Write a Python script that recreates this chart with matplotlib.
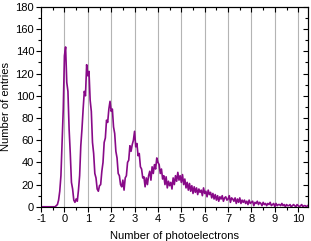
import numpy as np
import matplotlib.pyplot as plt
from matplotlib.ticker import MultipleLocator

# photoelectron spectrum, bins of 0.05 starting at -1
x_start = -1.0
bin_w = 0.05
counts_flat = [0] * 13  # -1.00 .. -0.40
counts_pk0 = [1, 2, 6, 14, 28, 58, 88, 136, 144, 112, 104, 70, 48, 22, 16, 6, 4, 7, 5, 15]
counts_pk1 = [28, 55, 70, 88, 104, 100, 128, 118, 122, 96, 86, 58, 48, 30, 26, 16, 14, 19, 20, 32]
counts_pk2 = [40, 58, 62, 78, 76, 88, 95, 86, 88, 72, 66, 50, 44, 30, 28, 20, 18, 24, 15, 26]
counts_pk3 = [28, 40, 42, 55, 50, 56, 60, 68, 54, 57, 46, 48, 36, 34, 26, 27, 18, 26, 20, 28]
counts_pk4 = [32, 24, 36, 30, 38, 34, 44, 40, 38, 30, 34, 25, 28, 20, 27, 17, 23, 19, 22, 16]
counts_pk5 = [26, 20, 28, 23, 31, 24, 28, 22, 29, 20, 25, 17, 22, 15, 21, 14, 19, 12, 18, 13]
counts_tail1 = [17, 11, 16, 13, 15, 10, 17, 12, 14, 9, 15, 11, 13, 8, 12, 7, 11, 6, 10, 5,
                9, 7, 10, 5, 8, 9, 6, 7, 10, 4, 8, 7, 5, 8, 3, 7, 4, 8, 3, 6]
counts_tail2 = [4, 6, 3, 5, 2, 6, 3, 4, 5, 1, 4, 3, 5, 2, 4, 3, 1, 4, 2, 3,
                1, 3, 2, 4, 1, 2, 3, 0, 3, 1, 2, 2, 1, 3, 1, 2, 0, 2, 1, 1,
                2, 0, 1, 2, 1, 0, 2, 1, 0, 1, 2, 0, 1, 1, 0, 1]

counts = np.array(counts_flat + counts_pk0 + counts_pk1 + counts_pk2 + counts_pk3
                  + counts_pk4 + counts_pk5 + counts_tail1 + counts_tail2, dtype=float)
npe = x_start + bin_w * np.arange(len(counts))

plt.rcParams['font.family'] = ['Liberation Sans', 'DejaVu Sans']
plt.rcParams['font.size'] = 8
plt.rcParams['axes.unicode_minus'] = False

fig = plt.figure(figsize=(3.11, 2.41), dpi=100)
ax = fig.add_axes([0.132, 0.142, 0.857, 0.829])

for t in range(0, 11):
    ax.axvline(t, color='#b4b4b4', lw=0.8, zorder=0)
ax.plot(npe, counts, color='#880a88', lw=1.2)

ax.set_xlim(-1, 10.4)
ax.set_ylim(0, 180)
ax.xaxis.set_major_locator(MultipleLocator(1))
ax.xaxis.set_minor_locator(MultipleLocator(0.5))
ax.yaxis.set_major_locator(MultipleLocator(20))
ax.yaxis.set_minor_locator(MultipleLocator(10))
ax.tick_params(which='both', direction='out', top=False, right=False, width=0.8, labelsize=8, pad=1.5)
ax.tick_params(which='major', length=3.5)
ax.tick_params(which='minor', length=2)

# inward ticks on top and right like Origin
axt = ax.secondary_xaxis('top')
axt.xaxis.set_major_locator(MultipleLocator(1))
axt.xaxis.set_minor_locator(MultipleLocator(0.5))
axt.tick_params(which='both', direction='in', labeltop=False, width=0.8)
axt.tick_params(which='major', length=3.5)
axt.tick_params(which='minor', length=2)
axr = ax.secondary_yaxis('right')
axr.yaxis.set_major_locator(MultipleLocator(20))
axr.yaxis.set_minor_locator(MultipleLocator(10))
axr.tick_params(which='both', direction='in', labelright=False, width=0.8)
axr.tick_params(which='major', length=3.5)
axr.tick_params(which='minor', length=2)

for s in ax.spines.values():
    s.set_linewidth(0.8)

ax.set_xlabel('Number of photoelectrons', fontsize=8, labelpad=5)
ax.set_ylabel('Number of entries', fontsize=8, labelpad=3)

fig.savefig('out.png', dpi=100)
